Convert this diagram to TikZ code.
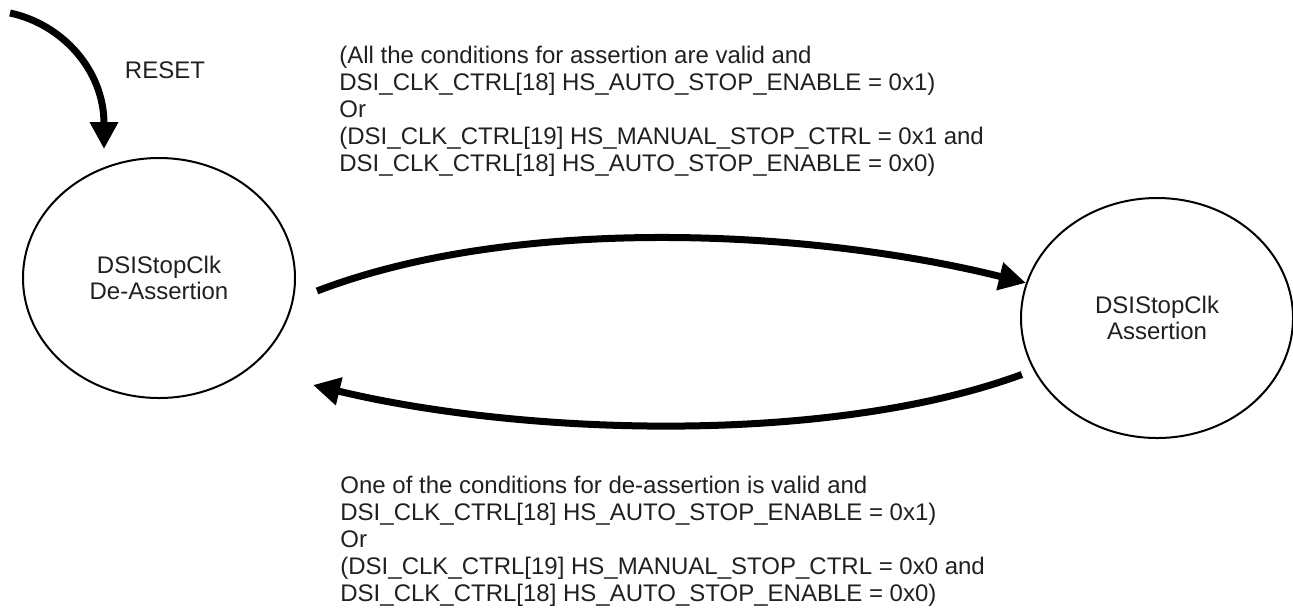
\documentclass[tikz,border=0pt]{standalone}
\usepackage{fontspec}
\setmainfont{Liberation Sans}
\usetikzlibrary{arrows.meta, shapes.geometric}
\definecolor{txtgray}{RGB}{35,31,32}

\begin{document}
\begin{tikzpicture}[x=0.5pt, y=-0.5pt,
  font=\fontsize{12}{13.4}\selectfont,
  state/.style={draw, ellipse, line width=1pt, minimum width=136pt,
    minimum height=120pt, inner sep=0pt, align=center, text=txtgray},
  trans/.style={line width=3.5pt, -{Triangle[length=13.5pt, width=13.5pt]}},
  cond/.style={anchor=north west, inner sep=0pt, align=left, text=txtgray}]
  \useasboundingbox (0,0) rectangle (1293,607);

  % the two states
  \node[state] (deassert) at (159,278) {DSIStopClk\\De-Assertion};
  \node[state] (assert) at (1157,318) {DSIStopClk\\Assertion};

  % reset entry
  \coordinate (resetin) at (10,13);
  \draw[trans] (resetin) .. controls (62,24) and (104,70) .. ([shift={(-55,-8)}]deassert.north);
  \node[inner sep=0pt, text=txtgray] (reset) at (165,70) {RESET};

  % transitions
  \draw[trans] ([shift={(21,13)}]deassert.east) .. controls (515,215) and (810,229) .. (assert.165);
  \draw[trans] ([shift={(-14,0)}]assert.205) .. controls (830,445) and (525,436) .. ([shift={(154,107)}]deassert.center);

  % conditions
  \node[cond] (toassert) at (339,46) {(All the conditions for assertion are valid and\\
    DSI\_CLK\_CTRL[18] HS\_AUTO\_STOP\_ENABLE = 0x1)\\
    Or\\
    (DSI\_CLK\_CTRL[19] HS\_MANUAL\_STOP\_CTRL = 0x1 and\\
    DSI\_CLK\_CTRL[18] HS\_AUTO\_STOP\_ENABLE = 0x0)};
  \node[cond] (todeassert) at (340,476) {One of the conditions for de-assertion is valid and\\
    DSI\_CLK\_CTRL[18] HS\_AUTO\_STOP\_ENABLE = 0x1)\\
    Or\\
    (DSI\_CLK\_CTRL[19] HS\_MANUAL\_STOP\_CTRL = 0x0 and\\
    DSI\_CLK\_CTRL[18] HS\_AUTO\_STOP\_ENABLE = 0x0)};
\end{tikzpicture}
\end{document}
